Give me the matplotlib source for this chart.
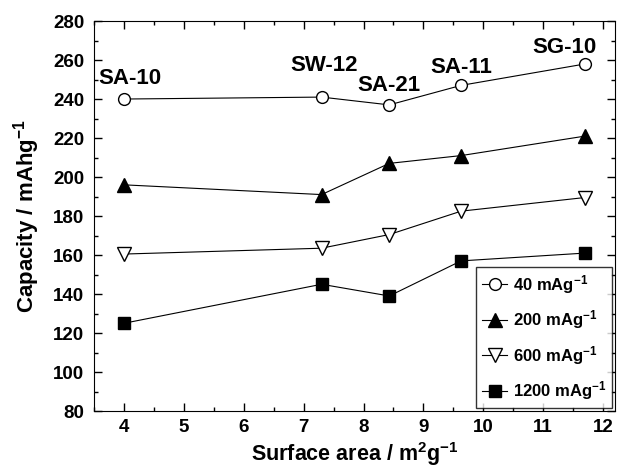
import matplotlib
matplotlib.use("Agg")
import matplotlib.pyplot as plt
from matplotlib.ticker import MultipleLocator

plt.rcParams['font.family'] = ['Liberation Sans', 'DejaVu Sans']
plt.rcParams['font.weight'] = 'bold'
plt.rcParams['mathtext.fontset'] = 'custom'
plt.rcParams['mathtext.rm'] = 'Liberation Sans:bold'
plt.rcParams['mathtext.bf'] = 'Liberation Sans:bold'
plt.rcParams['mathtext.default'] = 'bf'

# surface area of each sample
samples = ['SA-10', 'SW-12', 'SA-21', 'SA-11', 'SG-10']
surface_area = [4.0, 7.3, 8.43, 9.63, 11.7]

# capacity at each current density
cap_40 = [240, 241, 237, 247, 258]
cap_200 = [196, 191, 207, 211, 221]
cap_600 = [160.5, 163.5, 170.5, 182.5, 189.5]
cap_1200 = [125, 145, 139, 157, 161]

# label positions for sample names
label_x = [4.1, 7.34, 8.42, 9.63, 11.35]
label_y = [250.5, 257, 247, 256.3, 266.6]

fig = plt.figure(figsize=(6.21, 4.75), dpi=100)
ax = fig.add_axes([0.1514, 0.1347, 0.839, 0.821])

ax.plot(surface_area, cap_40, '-o', color='black', mfc='white', mec='black',
        ms=8.5, lw=0.8, label=r'40 mAg$^{-1}$')
ax.plot(surface_area, cap_200, '-^', color='black', mfc='black',
        ms=10, lw=0.8, label=r'200 mAg$^{-1}$')
ax.plot(surface_area, cap_600, '-v', color='black', mfc='white', mec='black',
        ms=10, lw=0.8, label=r'600 mAg$^{-1}$')
ax.plot(surface_area, cap_1200, '-s', color='black', mfc='black',
        ms=8, lw=0.8, label=r'1200 mAg$^{-1}$')

for name, lx, ly in zip(samples, label_x, label_y):
    ax.text(lx, ly, name, ha='center', va='center', fontsize=16, fontweight='bold')

ax.set_xlim(3.5, 12.2)
ax.set_ylim(80, 280)
ax.xaxis.set_major_locator(MultipleLocator(1))
ax.xaxis.set_minor_locator(MultipleLocator(0.5))
ax.yaxis.set_major_locator(MultipleLocator(20))
ax.yaxis.set_minor_locator(MultipleLocator(10))
ax.tick_params(which='both', direction='in', top=True, right=True, labelsize=13.5, pad=7)
ax.tick_params(axis='x', which='both', pad=6)
ax.tick_params(which='major', length=6, width=1)
ax.tick_params(which='minor', length=3, width=1)
for lab in ax.get_xticklabels() + ax.get_yticklabels():
    lab.set_fontweight('bold')

ax.set_xlabel(r'Surface area / m$^{2}$g$^{-1}$', fontsize=15.5, fontweight='bold', labelpad=3)
ax.set_ylabel(r'Capacity / mAhg$^{-1}$', fontsize=16, fontweight='bold', labelpad=8)

leg = ax.legend(loc='lower right', bbox_to_anchor=(0.995, 0.008), fontsize=12,
                frameon=True, fancybox=False, edgecolor='black', handlelength=1.5,
                handletextpad=0.35, labelspacing=0.75, borderpad=0.35, borderaxespad=0)
leg.get_frame().set_linewidth(1)
for t in leg.get_texts():
    t.set_fontweight('bold')

fig.savefig('out.png', dpi=100)
